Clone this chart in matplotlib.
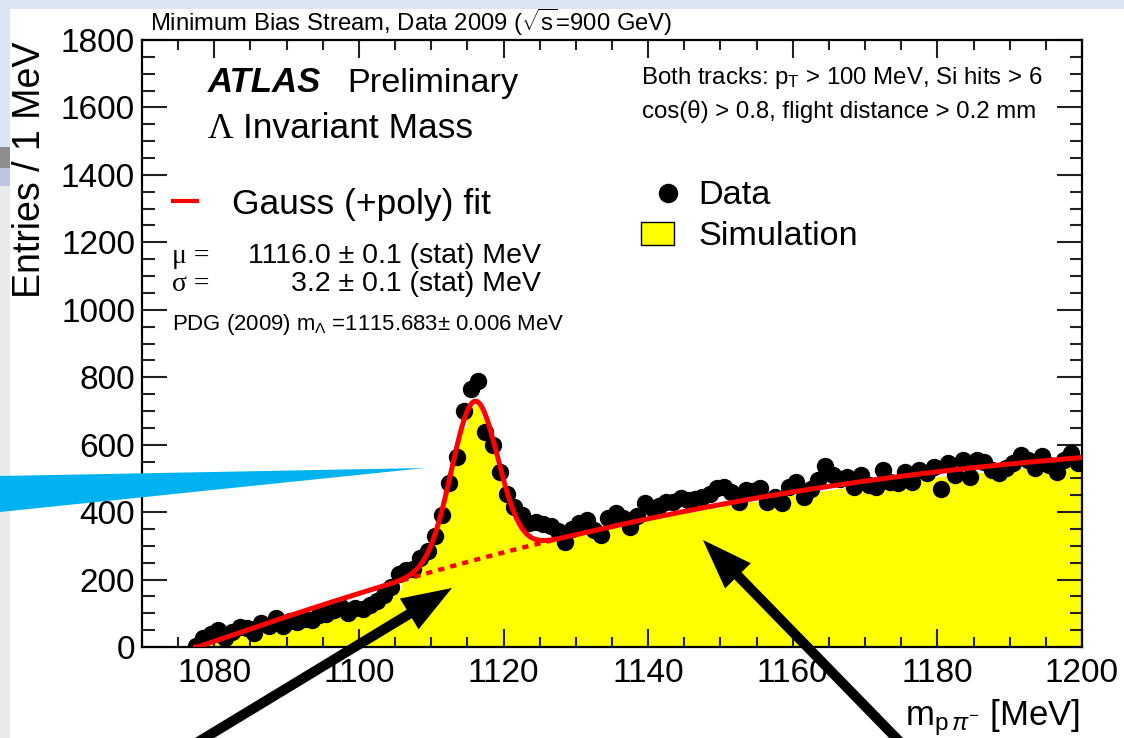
import numpy as np
import matplotlib.pyplot as plt
from matplotlib.patches import Polygon, Rectangle, FancyArrow
from matplotlib.transforms import IdentityTransform
from matplotlib.ticker import MultipleLocator

plt.rc('font', family='Liberation Sans')
plt.rc('mathtext', fontset='custom', rm='Liberation Sans',
       it='Liberation Sans:italic', bf='Liberation Sans:bold')

W, H = 1124, 738

# 1 MeV bins, first bin starts at 1077 MeV
bin_lo = 1077.0
data_counts = [
    2, 26, 38, 50, 28, 45, 60, 55, 42, 70,
    62, 85, 62, 78, 75, 82, 80, 95, 98, 110,
    120, 100, 115, 112, 125, 135, 155, 178, 215, 228,
    232, 265, 285, 330, 392, 485, 562, 700, 765, 788,
    638, 598, 518, 455, 415, 390, 368, 372, 366, 358,
    345, 312, 350, 368, 377, 348, 333, 384, 396, 383,
    357, 388, 426, 411, 418, 431, 430, 441, 436, 440,
    446, 455, 471, 475, 460, 431, 466, 462, 471, 431,
    445, 426, 475, 490, 446, 470, 495, 537, 510, 498,
    505, 475, 510, 480, 475, 525, 490, 485, 520, 490,
    525, 515, 535, 470, 545, 510, 555, 505, 555, 550,
    525, 515, 530, 545, 570, 555, 530, 565, 540, 520,
    555, 575, 545,
]
sim_counts = [
    0, 6, 14, 20, 24, 28, 32, 36, 40, 45,
    49, 54, 58, 63, 67, 72, 76, 81, 86, 91,
    96, 101, 106, 112, 118, 124, 134, 148, 168, 194,
    215, 245, 282, 330, 400, 480, 560, 650, 712, 726,
    680, 592, 500, 430, 382, 352, 336, 326, 322, 320,
    318, 322, 330, 335, 338, 343, 346, 352, 356, 360,
    363, 368, 372, 378, 381, 386, 390, 393, 398, 401,
    405, 409, 413, 418, 421, 424, 427, 430, 433, 437,
    440, 443, 447, 450, 452, 456, 460, 463, 466, 468,
    471, 473, 476, 479, 481, 484, 487, 489, 491, 494,
    496, 499, 501, 503, 506, 508, 511, 513, 515, 517,
    519, 522, 524, 526, 528, 531, 533, 535, 537, 539,
    541, 543, 546,
]

# fit: Gaussian on top of a threshold polynomial background
mu, sigma, amp = 1116.0, 3.2, 471.0
m_thr = 1077.4
bkg_mass = [1077.4, 1080, 1084, 1090, 1098, 1104, 1108, 1116,
            1125, 1135, 1148, 1165, 1180, 1200]
bkg_vals = [0, 20, 48, 90, 140, 180, 210, 262,
            312, 358, 412, 475, 520, 562]


def basis(m):
    t = np.clip((np.asarray(m, float) - m_thr) / 100., 0, None)
    return np.column_stack([np.sqrt(t), t, t**2, t**3])


coef = np.linalg.lstsq(basis(bkg_mass), np.array(bkg_vals, float), rcond=None)[0]


def bkg(m):
    return basis(m) @ coef


def fit(m):
    return bkg(m) + amp * np.exp(-0.5 * ((m - mu) / sigma)**2)


edges = bin_lo + np.arange(len(sim_counts) + 1)
centers = bin_lo + 0.5 + np.arange(len(data_counts))

fig = plt.figure(figsize=(W / 100, H / 100), dpi=100)
fig.patch.set_facecolor('white')

# slide border around the plot
fig.add_artist(Rectangle((0, H - 9), W, 9, transform=IdentityTransform(),
                         color='#dae6f4', lw=0))
fig.add_artist(Rectangle((0, 0), 10, H - 9, transform=IdentityTransform(),
                         color='#e8eaec', lw=0))
fig.add_artist(Rectangle((0, H - 147), 10, 138, transform=IdentityTransform(),
                         color='#dae6f4', lw=0))
fig.add_artist(Rectangle((0, H - 168), 10, 21, transform=IdentityTransform(),
                         color='#8e8e8e', lw=0))
fig.add_artist(Rectangle((0, H - 186), 10, 18, transform=IdentityTransform(),
                         color='#bcc6e2', lw=0))

ax = fig.add_axes([142 / W, 1 - 647 / H, 940 / W, 607 / H])
ax.stairs(sim_counts, edges, fill=True, color='#ffff00', lw=0, zorder=1)
ax.plot(centers, data_counts, 'o', color='k', ms=11.5, zorder=2)

m_line = np.linspace(m_thr, 1200, 800)
ax.plot(m_line, fit(m_line), color='red', lw=3.6, zorder=3)
m_dot = np.linspace(1106, 1127, 100)
ax.plot(m_dot, bkg(m_dot), color='red', lw=3.2, ls=(0, (1.4, 1.4)), zorder=3)

ax.set_xlim(1070, 1200)
ax.set_ylim(0, 1800)
ax.xaxis.set_major_locator(MultipleLocator(20))
ax.xaxis.set_minor_locator(MultipleLocator(5))
ax.yaxis.set_major_locator(MultipleLocator(200))
ax.yaxis.set_minor_locator(MultipleLocator(50))
ax.tick_params(which='both', direction='in', top=True, right=True,
               width=1.5, color='#222222', labelsize=24)
ax.tick_params(axis='x', which='major', length=13, pad=8)
ax.tick_params(axis='x', which='minor', length=7)
ax.tick_params(axis='y', which='major', length=18, pad=5)
ax.tick_params(axis='y', which='minor', length=9)
for s in ax.spines.values():
    s.set_linewidth(1.6)


def txt(x, y, s, **kw):
    kw.setdefault('va', 'baseline')
    fig.text(x / W, 1 - y / H, s, **kw)


txt(30, 42, 'Entries / 1 MeV', rotation=90, ha='center', va='top', fontsize=27)
txt(1080, 725, r'm$_{\mathrm{p}\,\pi^{-}}$ [MeV]', ha='right', fontsize=25)

txt(150, 31, r'Minimum Bias Stream, Data 2009 ($\sqrt{\mathrm{s}}$=900 GeV)', fontsize=17.2)
txt(208, 92, 'ATLAS', fontsize=25, fontweight='bold', fontstyle='italic')
txt(347, 92, 'Preliminary', fontsize=24.7)
txt(208, 138, 'Λ', fontsize=25.5, family='Liberation Serif')
txt(243, 138, 'Invariant Mass', fontsize=25.5)

fig.add_artist(plt.Line2D([173 / W, 197 / W], [1 - 201 / H, 1 - 201 / H],
                          color='red', lw=3))
txt(232, 214, 'Gauss (+poly) fit', fontsize=25.5)
txt(172, 263, 'μ =', fontsize=20, family='Liberation Serif')
txt(541, 263, '1116.0 ± 0.1 (stat) MeV', ha='right', fontsize=20.5)
txt(172, 291, 'σ =', fontsize=20, family='Liberation Serif')
txt(541, 291, '3.2 ± 0.1 (stat) MeV', ha='right', fontsize=20.5)
txt(172, 330, r'PDG (2009) m$_{\Lambda}$ =1115.683$\pm$ 0.006 MeV', fontsize=15.9)

txt(1043, 84, r'Both tracks: p$_{\mathrm{T}}$ > 100 MeV, Si hits > 6', ha='right', fontsize=17.3)
txt(1036, 118, 'cos(θ) > 0.8, flight distance > 0.2 mm', ha='right', fontsize=17.3)

fig.add_artist(plt.Line2D([668 / W], [1 - 193 / H], marker='o', color='k', ms=13))
fig.add_artist(Rectangle((641, H - 245), 33, 23, transform=IdentityTransform(),
                         facecolor='#ffff00', edgecolor='k', lw=1))
txt(698, 204, 'Data', fontsize=24.7)
txt(698, 245, 'Simulation', fontsize=24.7)

# callout tail and arrows
fig.add_artist(Polygon([(0, H - 476), (425, H - 468), (0, H - 512)],
                       closed=True, transform=IdentityTransform(),
                       color='#00b2f0', lw=0, zorder=5))
for (x0, y0), (x1, y1) in [((198, 742), (452, 588)), ((900, 742), (703, 540))]:
    fig.add_artist(FancyArrow(x0, H - y0, x1 - x0, y0 - y1, width=10,
                              head_width=36, head_length=50,
                              length_includes_head=True, color='k', lw=0,
                              transform=IdentityTransform(), zorder=5))

fig.savefig('out.png', dpi=100)
